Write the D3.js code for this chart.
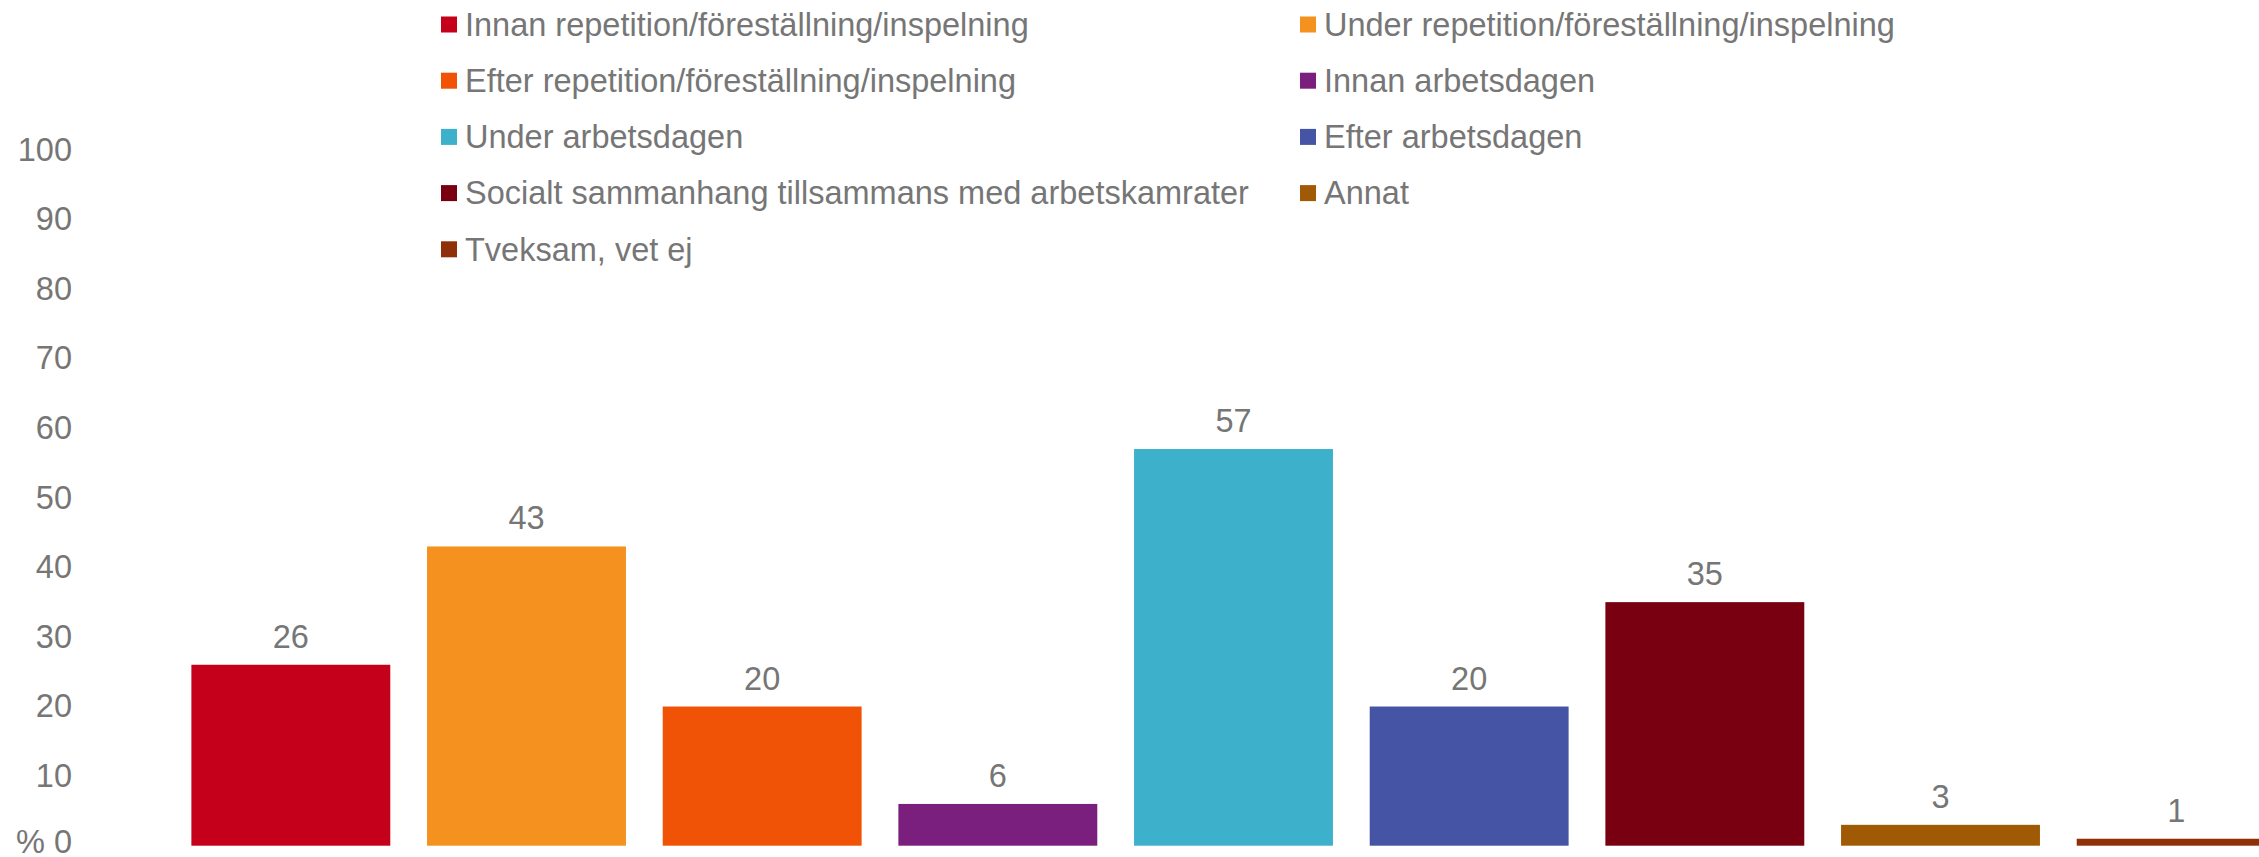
<!DOCTYPE html>
<html>
<head>
<meta charset="utf-8">
<script src="https://cdn.jsdelivr.net/npm/d3@7"></script>
<style>
  body { margin: 0; background: #fff; }
  svg { display: block; font-family: "Liberation Sans", Arial, sans-serif; }
</style>
</head>
<body>
<div id="chart"></div>
<script>
// data
const categories = [
  "Innan repetition/föreställning/inspelning",
  "Under repetition/föreställning/inspelning",
  "Efter repetition/föreställning/inspelning",
  "Innan arbetsdagen",
  "Under arbetsdagen",
  "Efter arbetsdagen",
  "Socialt sammanhang tillsammans med arbetskamrater",
  "Annat",
  "Tveksam, vet ej"
];
const values = [26, 43, 20, 6, 57, 20, 35, 3, 1];
const colors = ["#C5001A", "#F5911E", "#F05206", "#7B1F7F", "#3DB0CC", "#4654A5", "#780010", "#A05A05", "#8F3008"];
const yTicks = [0, 10, 20, 30, 40, 50, 60, 70, 80, 90, 100];

const W = 2259, H = 857;
const textColor = "#767676";
const fontSize = "32.5px";

const svg = d3.select("#chart").append("svg")
  .attr("width", W)
  .attr("height", H);

// scales
const x = d3.scaleBand()
  .domain(categories)
  .range([173, 2294])
  .paddingInner(0.156)
  .paddingOuter(0.078);

const y = d3.scaleLinear()
  .domain([0, 100])
  .range([845.7, 149.8]);

const color = d3.scaleOrdinal().domain(categories).range(colors);

// y axis
const yAxis = svg.append("g")
  .attr("transform", "translate(80,0)")
  .call(d3.axisLeft(y)
    .tickValues(yTicks)
    .tickSize(0)
    .tickPadding(8)
    .tickFormat(d => d === 0 ? "% 0" : d));
yAxis.select(".domain").remove();
yAxis.selectAll("text")
  .style("font-size", fontSize)
  .style("font-family", "'Liberation Sans', Arial, sans-serif")
  .attr("fill", textColor);
// keep the bottom label inside the frame
yAxis.selectAll("text").filter(d => d === 0).attr("dy", "0.22em");

// bars
svg.append("g").selectAll("rect")
  .data(categories)
  .join("rect")
  .attr("x", d => x(d))
  .attr("width", x.bandwidth())
  .attr("y", (d, i) => y(values[i]))
  .attr("height", (d, i) => y(0) - y(values[i]))
  .attr("fill", d => color(d));

// value labels
svg.append("g").selectAll("text")
  .data(categories)
  .join("text")
  .attr("x", d => x(d) + x.bandwidth() / 2)
  .attr("y", (d, i) => y(values[i]) - 17)
  .attr("text-anchor", "middle")
  .style("font-size", fontSize)
  .attr("fill", textColor)
  .text((d, i) => values[i]);

// legend (two columns, row-wise)
const legendCols = [441, 1300];
const legendTop = 24.5, legendStep = 56.2;
const legend = svg.append("g").selectAll("g")
  .data(categories)
  .join("g")
  .attr("transform", (d, i) =>
    `translate(${legendCols[i % 2]},${legendTop + Math.floor(i / 2) * legendStep})`);

legend.append("rect")
  .attr("x", 0)
  .attr("y", -8)
  .attr("width", 16)
  .attr("height", 16)
  .attr("fill", d => color(d));

legend.append("text")
  .attr("x", 24)
  .attr("dy", "0.35em")
  .style("font-size", fontSize)
  .attr("fill", textColor)
  .text(d => d);
</script>
</body>
</html>
